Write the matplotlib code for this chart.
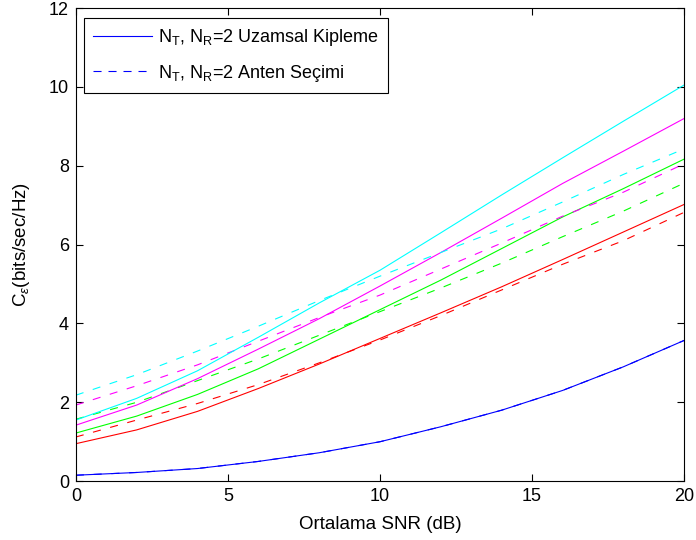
import matplotlib
matplotlib.use("Agg")
import matplotlib.pyplot as plt

plt.rcParams['font.family'] = ['Liberation Sans', 'DejaVu Sans']
plt.rcParams['mathtext.fontset'] = 'custom'
plt.rcParams['mathtext.rm'] = 'Liberation Sans'
plt.rcParams['mathtext.it'] = 'Liberation Sans:italic'
plt.rcParams['lines.scale_dashes'] = False

snr = [0, 2, 4, 6, 8, 10, 12, 14, 16, 18, 20]

# N_T, N_R = 2
sm_2 = [0.15, 0.22, 0.32, 0.50, 0.72, 1.00, 1.38, 1.80, 2.30, 2.90, 3.57]
as_2 = [0.15, 0.22, 0.32, 0.50, 0.72, 1.00, 1.38, 1.80, 2.30, 2.90, 3.57]
# red
sm_r = [0.95, 1.30, 1.77, 2.35, 2.97, 3.62, 4.27, 4.93, 5.62, 6.32, 7.02]
as_r = [1.12, 1.55, 1.97, 2.45, 3.00, 3.58, 4.20, 4.85, 5.50, 6.10, 6.82]
# green
sm_g = [1.22, 1.65, 2.20, 2.85, 3.60, 4.35, 5.10, 5.90, 6.70, 7.42, 8.17]
as_g = [1.57, 2.00, 2.55, 3.10, 3.70, 4.30, 4.90, 5.53, 6.20, 6.85, 7.56]
# magenta
sm_m = [1.42, 1.93, 2.60, 3.35, 4.12, 4.95, 5.80, 6.67, 7.55, 8.37, 9.20]
as_m = [1.93, 2.42, 2.95, 3.55, 4.15, 4.72, 5.38, 6.04, 6.72, 7.33, 8.05]
# cyan
sm_c = [1.55, 2.10, 2.80, 3.65, 4.52, 5.35, 6.30, 7.26, 8.20, 9.13, 10.05]
as_c = [2.18, 2.70, 3.30, 3.93, 4.58, 5.20, 5.80, 6.40, 7.08, 7.78, 8.43]

labels = [r'N$_\mathrm{T}$, N$_\mathrm{R}$=2 Uzamsal Kipleme',
          r'N$_\mathrm{T}$, N$_\mathrm{R}$=2 Anten Seçimi']

fig = plt.figure(figsize=(6.96, 5.4), dpi=100)
ax = fig.add_axes([0.109, 0.109, 0.874, 0.876])

dash = (0, (5.8, 7))
lw = 0.8
ax.plot(snr, sm_2, color='#0000ff', lw=lw, label=labels[0])
ax.plot(snr, as_2, color='#0000ff', lw=lw, ls=dash, label=labels[1])
for sm, an, col in [(sm_r, as_r, '#ff0000'), (sm_g, as_g, '#00ff00'),
                    (sm_m, as_m, '#ff00ff'), (sm_c, as_c, '#00ffff')]:
    ax.plot(snr, sm, color=col, lw=lw)
    ax.plot(snr, an, color=col, lw=lw, ls=dash)

ax.set_xlim(0, 20)
ax.set_ylim(0, 12)
ax.set_xticks([0, 5, 10, 15, 20])
ax.set_yticks([0, 2, 4, 6, 8, 10, 12])
ax.tick_params(direction='in', top=True, right=True, labelsize=13, length=5,
               pad=5)
ax.set_xlabel('Ortalama SNR (dB)', fontsize=13.5, labelpad=8)
ax.set_ylabel(r'C$_\varepsilon$(bits/sec/Hz)', fontsize=13.5, labelpad=12)

leg = ax.legend(loc='upper left', fontsize=13, fancybox=False, framealpha=1,
                edgecolor='black', handlelength=3.3, borderpad=0.5,
                labelspacing=0.8, handletextpad=0.3, borderaxespad=0,
                bbox_to_anchor=(0.013, 0.979))
leg.get_frame().set_linewidth(0.8)
leg.get_lines()[1].set_linestyle((0, (5.8, 5)))

fig.savefig('out.png', dpi=100)
